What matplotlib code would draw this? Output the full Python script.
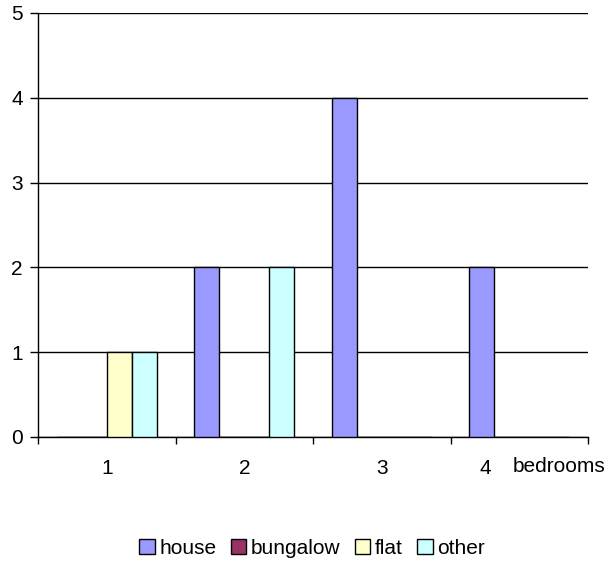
import numpy as np
import matplotlib
matplotlib.use('Agg')
import matplotlib.pyplot as plt
import matplotlib.transforms as mtransforms

plt.rcParams['font.family'] = ['Liberation Sans', 'DejaVu Sans']

# data
categories = ['1', '2', '3', '4']
series = ['house', 'bungalow', 'flat', 'other']
house = [0, 2, 4, 2]
bungalow = [0, 0, 0, 0]
flat = [1, 0, 0, 0]
other = [1, 2, 0, 0]
colors = ['#9999FF', '#993366', '#FFFFCC', '#CCFFFF']

values = [house, bungalow, flat, other]

fig = plt.figure(figsize=(6.07, 5.80), dpi=100)
ax = fig.add_axes([38/607, (580-437)/580, 550/607, 424/580])

x = np.arange(1, len(categories) + 1)
w = 0.182
for i, (name, vals, c) in enumerate(zip(series, values, colors)):
    ax.bar(x + (i - 1.5) * w, vals, w, color=c, edgecolor='black',
           linewidth=1.0, label=name, zorder=3)

ax.set_xlim(0.5, 4.5)
ax.set_ylim(0, 5)
ax.set_yticks(range(0, 6))
ax.yaxis.grid(True, color='black', linewidth=1.0, zorder=0)
ax.set_axisbelow(True)

# ticks on group boundaries, labels in the middle
ax.set_xticks(np.arange(0.5, 4.6, 1.0))
ax.set_xticklabels([])
ax.set_xticks(x, minor=True)
ax.set_xticklabels(categories, minor=True)
ax.tick_params(axis='x', which='major', length=5, width=1, direction='out', color='black')
ax.tick_params(axis='x', which='minor', length=0, pad=16, labelsize=15)
ax.tick_params(axis='y', length=6, width=1, direction='out', pad=5, labelsize=15)

# last category label sits left of the axis title, as in the reference
lab = ax.get_xticklabels(minor=True)[-1]
lab.set_transform(lab.get_transform() +
                  mtransforms.ScaledTranslation(-0.34, 0, fig.dpi_scale_trans))

for s in ['top', 'right']:
    ax.spines[s].set_visible(False)
for s in ['left', 'bottom']:
    ax.spines[s].set_linewidth(1.0)
    ax.spines[s].set_color('black')

fig.text(605/607, 1 - 467/580, 'bedrooms', ha='right', va='center', fontsize=15)

leg = fig.legend(loc='center', bbox_to_anchor=(312/607, 1 - 548/580), ncol=4,
                 frameon=False, fontsize=15, handlelength=0.75, handleheight=0.75,
                 handletextpad=0.2, columnspacing=0.7, borderaxespad=0)

fig.savefig('out.png', dpi=100)
